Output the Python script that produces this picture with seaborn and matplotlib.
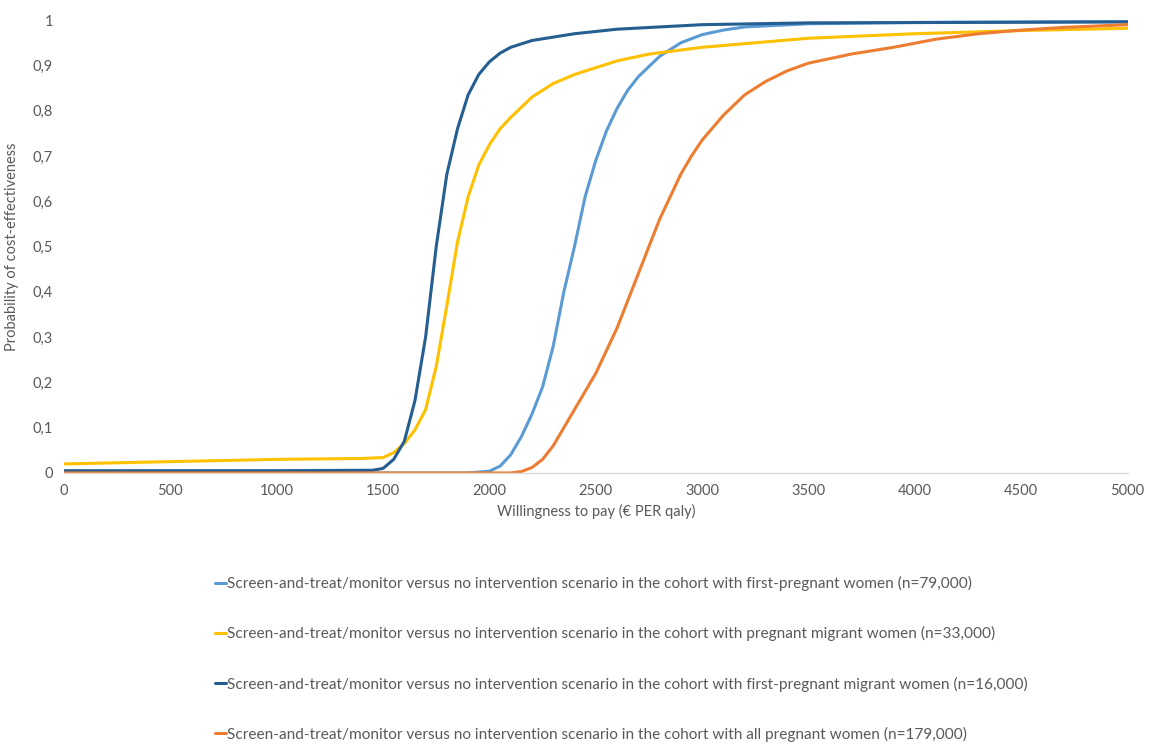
import pandas as pd
import matplotlib.pyplot as plt
import seaborn as sns

# willingness to pay (x) and probability (y), per scenario
wtp_first = [0, 1000, 1900, 2000, 2050, 2100, 2150, 2200, 2250, 2300, 2350, 2400, 2450,
             2500, 2550, 2600, 2650, 2700, 2800, 2900, 3000, 3100, 3200, 3500, 4000, 5000]
prob_first = [0.0, 0.0, 0.0, 0.004, 0.015, 0.04, 0.08, 0.13, 0.19, 0.28, 0.40, 0.50, 0.61,
              0.69, 0.755, 0.805, 0.845, 0.875, 0.92, 0.95, 0.968, 0.978, 0.985, 0.992,
              0.995, 0.997]

wtp_migrant = [0, 500, 1000, 1400, 1500, 1550, 1600, 1650, 1700, 1750, 1800, 1850, 1900,
               1950, 2000, 2050, 2100, 2200, 2300, 2400, 2500, 2600, 2750, 3000, 3500,
               4000, 4500, 5000]
prob_migrant = [0.02, 0.025, 0.03, 0.032, 0.034, 0.045, 0.065, 0.095, 0.14, 0.235, 0.37,
                0.51, 0.61, 0.68, 0.725, 0.76, 0.785, 0.83, 0.86, 0.88, 0.895, 0.91, 0.925,
                0.94, 0.96, 0.97, 0.977, 0.982]

wtp_first_migrant = [0, 1000, 1450, 1500, 1550, 1600, 1650, 1700, 1750, 1800, 1850, 1900,
                     1950, 2000, 2050, 2100, 2200, 2400, 2600, 3000, 3500, 5000]
prob_first_migrant = [0.005, 0.005, 0.006, 0.01, 0.03, 0.07, 0.16, 0.30, 0.50, 0.66, 0.76,
                      0.835, 0.88, 0.908, 0.927, 0.94, 0.955, 0.97, 0.98, 0.99, 0.994, 0.996]

wtp_all = [0, 1000, 2100, 2150, 2200, 2250, 2300, 2350, 2400, 2450, 2500, 2550, 2600, 2650,
           2700, 2750, 2800, 2850, 2900, 2950, 3000, 3100, 3200, 3300, 3400, 3500, 3700,
           3900, 4100, 4300, 4500, 4700, 5000]
prob_all = [0.0, 0.0, 0.0, 0.003, 0.012, 0.03, 0.06, 0.1, 0.14, 0.18, 0.22, 0.27, 0.32,
            0.38, 0.44, 0.5, 0.56, 0.61, 0.66, 0.70, 0.735, 0.79, 0.835, 0.865, 0.888, 0.905,
            0.925, 0.94, 0.958, 0.97, 0.978, 0.984, 0.99]

labels = [
    "Screen-and-treat/monitor versus no intervention scenario in the cohort with first-pregnant women (n=79,000)",
    "Screen-and-treat/monitor versus no intervention scenario in the cohort with pregnant migrant women (n=33,000)",
    "Screen-and-treat/monitor versus no intervention scenario in the cohort with first-pregnant migrant women (n=16,000)",
    "Screen-and-treat/monitor versus no intervention scenario in the cohort with all pregnant women (n=179,000)",
]
colors = ["#5B9BD5", "#FFC000", "#255E91", "#ED7D31"]

yticks = [0, 0.1, 0.2, 0.3, 0.4, 0.5, 0.6, 0.7, 0.8, 0.9, 1]
ytick_labels = ["0", "0,1", "0,2", "0,3", "0,4", "0,5", "0,6", "0,7", "0,8", "0,9", "1"]
xticks = list(range(0, 5001, 500))


def main():
    series = [(wtp_first, prob_first), (wtp_migrant, prob_migrant),
              (wtp_first_migrant, prob_first_migrant), (wtp_all, prob_all)]
    frames = []
    for lab, (xs, ys) in zip(labels, series):
        frames.append(pd.DataFrame({"wtp": xs, "prob": ys, "scenario": lab}))
    df = pd.concat(frames, ignore_index=True)

    sns.set_style("white")
    plt.rcParams['font.family'] = ['Lato', 'DejaVu Sans']

    fig = plt.figure(figsize=(11.51, 7.46), dpi=100)
    ax = fig.add_axes([0.0556, 0.366, 0.924, 0.607])

    sns.lineplot(data=df, x="wtp", y="prob", hue="scenario", hue_order=labels,
                 palette=colors, sort=False, estimator=None, linewidth=2.2, ax=ax,
                 legend=False)

    ax.set_xlim(0, 5000)
    ax.set_ylim(0, 1)
    ax.set_xticks(xticks)
    ax.set_yticks(yticks)
    ax.set_yticklabels(ytick_labels)
    ax.tick_params(axis='both', length=0, labelsize=10.5, colors="#595959", pad=8)
    ax.grid(False)
    for s in ["top", "right", "left"]:
        ax.spines[s].set_visible(False)
    ax.spines["bottom"].set_color("#D9D9D9")
    ax.spines["bottom"].set_linewidth(1)

    ax.set_xlabel("Willingness to pay (€ PER qaly)", fontsize=10.5, color="#595959", labelpad=4)
    ax.set_ylabel("Probability of cost-effectiveness", fontsize=10.5, color="#595959", labelpad=10)

    handles = [plt.Line2D([], [], color=c, lw=2.2) for c in colors]
    fig.legend(handles, labels, loc="upper center", bbox_to_anchor=(0.54, 0.236),
               frameon=False, fontsize=11.1, labelcolor="#595959", handlelength=0.7,
               handletextpad=0.12, labelspacing=2.28, borderaxespad=0)

    fig.savefig("out.png", dpi=100)
    plt.close(fig)


if __name__ == '__main__':
    main()
